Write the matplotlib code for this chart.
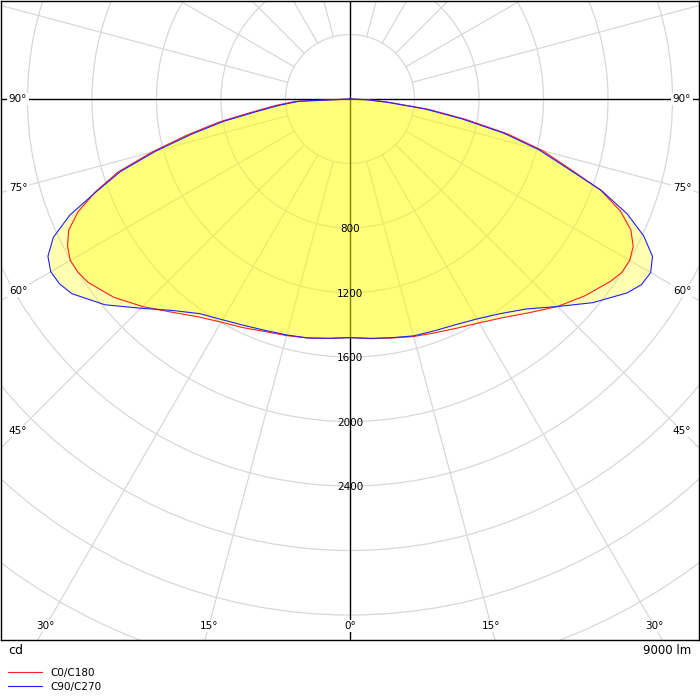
import numpy as np
import matplotlib
matplotlib.use("Agg")
import matplotlib.pyplot as plt
from matplotlib.patches import Circle

plt.rcParams['font.family'] = ['DejaVu Sans']

# gamma angles (deg from nadir) and intensities in cd
gamma = [0, 5, 10, 15, 20, 25, 30, 35, 40, 45, 50, 55, 57.5, 60, 62.5, 65, 67.5, 70,
         72.5, 75, 77.5, 80, 82.5, 85, 87.5, 90]
c0 = [1480, 1492, 1505, 1525, 1543, 1568, 1603, 1655, 1730, 1820, 1900, 1972, 2000, 2003, 1980, 1922,
      1815, 1655, 1420, 1237, 1002, 730, 492, 250, 120, 0]
c180 = [1480, 1490, 1505, 1519, 1535, 1565, 1598, 1648, 1725, 1820, 1913, 1983, 2000, 2003, 1975, 1925,
        1825, 1678, 1510, 1272, 1037, 826, 606, 464, 340, 0]
c90 = [1480, 1490, 1503, 1521, 1530, 1545, 1575, 1625, 1700, 1820, 1965, 2097, 2143, 2153, 2115, 2010,
       1860, 1660, 1400, 1210, 975, 700, 465, 230, 105, 0]
c270 = [1480, 1490, 1505, 1515, 1528, 1550, 1581, 1625, 1712, 1835, 1985, 2105, 2135, 2143, 2112, 2030,
        1880, 1670, 1490, 1245, 1005, 795, 575, 435, 315, 0]

ring_values = [400, 800, 1200, 1600, 2000, 2400, 2800, 3200, 3600, 4000, 4400]
ring_labels = [800, 1200, 1600, 2000, 2400]
angle_labels = [0, 15, 30, 45, 60, 75, 90]
flux_text = "9000 lm"

GRID = '#d8d8d8'


def outline(right, left):
    g = np.radians(gamma)
    r = np.array(right, dtype=float)
    l = np.array(left, dtype=float)
    x = np.concatenate([-(l * np.sin(g))[::-1], r * np.sin(g)])
    y = np.concatenate([-(l * np.cos(g))[::-1], -r * np.cos(g)])
    return x, y


fig = plt.figure(figsize=(7, 7), dpi=100)
ax = fig.add_axes([1 / 700, 60 / 700, 698 / 700, 639 / 700])
k = 400 / 64.5  # cd per pixel
ax.set_xlim(-349 * k, 349 * k)
ax.set_ylim(-541 * k, 98 * k)
ax.set_xticks([])
ax.set_yticks([])
for sp in ax.spines.values():
    sp.set_color('black')
    sp.set_linewidth(1)

# rings
for rv in ring_values:
    ax.add_patch(Circle((0, 0), rv, fill=False, edgecolor=GRID, linewidth=0.9, zorder=1))

# radial lines
for a in range(15, 180, 15):
    if a == 90:
        continue
    t = np.radians(a)
    for s in (-1, 1):
        ax.plot([s * 400 * np.sin(t), s * 6000 * np.sin(t)],
                [-400 * np.cos(t), -6000 * np.cos(t)], color=GRID, lw=0.9, zorder=1)

ax.axhline(0, color='black', lw=1, zorder=2)
ax.axvline(0, color='black', lw=1, zorder=2)

# curves
x1, y1 = outline(c0, c180)
x2, y2 = outline(c90, c270)
ax.fill(x2, y2, color='yellow', alpha=0.3, lw=0, zorder=3)
ax.fill(x1, y1, color='yellow', alpha=0.3, lw=0, zorder=3)
l1, = ax.plot(x1, y1, color='#ff2020', lw=0.8, zorder=4, label='C0/C180')
l2, = ax.plot(x2, y2, color='#2020ff', lw=0.8, zorder=4, label='C90/C270')

# ring labels
for rv in ring_labels:
    ax.text(0, -rv - 1.5 * k, str(rv), ha='center', va='center', fontsize=7.5, zorder=5)

# angle labels on an inset rectangle
xin = 332 * k
yin = 527 * k
for a in angle_labels:
    t = np.radians(a)
    if a == 0:
        d = yin
    elif a == 90:
        d = xin
    else:
        d = min(xin / np.sin(t), yin / np.cos(t))
    sides = (1,) if a == 0 else (-1, 1)
    for s in sides:
        ax.text(s * d * np.sin(t), -d * np.cos(t), f"{a}°", ha='center', va='center',
                fontsize=7.5, zorder=6,
                bbox=dict(facecolor='white', edgecolor='none', pad=1))

fig.text(8 / 700, 1 - 651 / 700, "cd", ha='left', va='center', fontsize=9)
fig.text(691 / 700, 1 - 651 / 700, flux_text, ha='right', va='center', fontsize=8.5)

fig.legend(handles=[l1, l2], loc='upper left', bbox_to_anchor=(8 / 700, 1 - 668 / 700),
           frameon=False, fontsize=7.5, handlelength=3.3, labelspacing=0.38,
           borderaxespad=0, borderpad=0, handletextpad=0.8)

fig.savefig("out.png", dpi=100, facecolor='white')
